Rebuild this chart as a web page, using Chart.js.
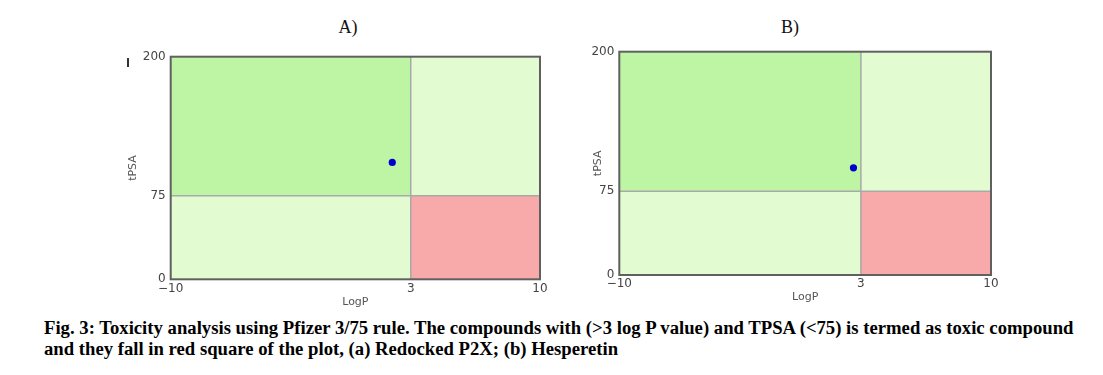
<!DOCTYPE html>
<html>
<head>
<meta charset="utf-8">
<script src="https://cdn.jsdelivr.net/npm/chart.js@4.4.1/dist/chart.umd.min.js"></script>
<style>
  html,body{margin:0;padding:0;background:#fff;}
  body{width:1103px;height:375px;position:relative;overflow:hidden;}
  .cv{position:absolute;}
  .ttl{position:absolute;font-family:"Liberation Serif","Times New Roman",serif;font-size:18px;color:#111;width:60px;text-align:center;line-height:20px;}
  #cap{position:absolute;left:44px;top:317px;font-family:"Liberation Serif","Times New Roman",serif;font-weight:bold;font-size:18.7px;line-height:21px;color:#000;white-space:nowrap;}
  #mark{position:absolute;left:127px;top:58px;width:2px;height:9px;background:#333;}
</style>
</head>
<body>
<div class="ttl" id="tA" style="left:318px;top:17px;">A)</div>
<div class="ttl" id="tB" style="left:760px;top:17px;">B)</div>
<div id="mark"></div>
<canvas id="cA" class="cv" width="460" height="270" style="left:100px;top:40px;"></canvas>
<canvas id="cB" class="cv" width="420" height="270" style="left:590px;top:35px;"></canvas>
<div id="cap">Fig. 3: Toxicity analysis using Pfizer 3/75 rule. The compounds with (&gt;3 log P value) and TPSA (&lt;75) is termed as toxic compound<br>and they fall in red square of the plot, (a) Redocked P2X; (b) Hesperetin</div>
<script>
// ---- data ----
const xTicks = [-10, 3, 10];          // LogP tick labels / zone bounds
const yTicks = [0, 75, 200];          // tPSA tick labels / zone bounds
const xThreshold = 3;
const yThreshold = 75;
const compoundA_logP = [2.0];
const compoundA_tpsa = [105];
const compoundB_logP = [2.6];
const compoundB_tpsa = [96];

// ---- styles ----
const COL_DARK = '#bdf5a4';
const COL_LIGHT = '#e3fbd0';
const COL_RED = '#f8a9a9';
// zone colours indexed [yZone][xZone]  (yZone 0 = below threshold)
const zoneStyle = [[COL_LIGHT, COL_RED],[COL_DARK, COL_LIGHT]];

const zonePlugin = {
  id: 'zones',
  beforeDatasetsDraw(chart) {
    const {ctx, chartArea: a, scales: {x, y}} = chart;
    ctx.save();
    for (let j = 0; j < yTicks.length - 1; j++) {
      for (let i = 0; i < xTicks.length - 1; i++) {
        const x0 = x.getPixelForValue(xTicks[i]);
        const x1 = x.getPixelForValue(xTicks[i + 1]);
        const y0 = y.getPixelForValue(yTicks[j]);
        const y1 = y.getPixelForValue(yTicks[j + 1]);
        ctx.fillStyle = zoneStyle[j][i];
        ctx.fillRect(x0, y1, x1 - x0, y0 - y1);
      }
    }
    ctx.strokeStyle = '#a9a9a9';
    ctx.lineWidth = 1.5;
    const tx = x.getPixelForValue(xThreshold);
    const ty = y.getPixelForValue(yThreshold);
    ctx.beginPath();
    ctx.moveTo(tx, a.top); ctx.lineTo(tx, a.bottom);
    ctx.moveTo(a.left, ty); ctx.lineTo(a.right, ty);
    ctx.stroke();
    ctx.strokeStyle = '#606060';
    ctx.lineWidth = 2;
    ctx.strokeRect(a.left, a.top, a.right - a.left, a.bottom - a.top);
    ctx.restore();
  }
};

function fmt(v) { return v < 0 ? '\u2212' + Math.abs(v) : String(v); }

function makeChart(id, xs, ys, cfg) {
  const pts = xs.map((v, i) => ({x: v, y: ys[i]}));
  return new Chart(document.getElementById(id), {
    type: 'scatter',
    data: { datasets: [{ data: pts, backgroundColor: '#0000cc', borderWidth: 0, pointRadius: 3.6 }] },
    options: {
      responsive: false, animation: false, devicePixelRatio: 1,
      layout: { padding: cfg.pad },
      plugins: { legend: {display: false}, tooltip: {enabled: false} },
      scales: {
        x: {
          type: 'linear', min: xTicks[0], max: xTicks[xTicks.length - 1],
          afterBuildTicks: s => { s.ticks = xTicks.map(v => ({value: v})); },
          afterFit: s => { s.height = cfg.xH; },
          grid: {display: false, drawTicks: false}, border: {display: false},
          ticks: { autoSkip: false, maxRotation: 0, padding: 2, color: '#444',
                   font: {family: 'DejaVu Sans', size: 12}, callback: v => fmt(v) },
          title: { display: true, text: 'LogP', color: '#555',
                   font: {family: 'DejaVu Sans', size: 11}, padding: {top: 0, bottom: cfg.xtPad} }
        },
        y: {
          type: 'linear', min: yTicks[0], max: yTicks[yTicks.length - 1],
          afterBuildTicks: s => { s.ticks = yTicks.map(v => ({value: v})); },
          afterFit: s => { s.width = cfg.yW; },
          grid: {display: false, drawTicks: false}, border: {display: false},
          ticks: { autoSkip: false, padding: 5, color: '#444',
                   font: {family: 'DejaVu Sans', size: 12}, callback: v => fmt(v) },
          title: { display: true, text: 'tPSA', color: '#555',
                   font: {family: 'DejaVu Sans', size: 11}, padding: {top: cfg.ytPad, bottom: 0} }
        }
      }
    },
    plugins: [zonePlugin]
  });
}

makeChart('cA', compoundA_logP, compoundA_tpsa,
  { pad: {left: 20, right: 20, top: 16.7, bottom: 0}, yW: 50.7, xH: 30.7, xtPad: 1.7, ytPad: 6.4 });
makeChart('cB', compoundB_logP, compoundB_tpsa,
  { pad: {left: 0, right: 19, top: 16.7, bottom: 0}, yW: 29.3, xH: 30, xtPad: 1.7, ytPad: 1.4 });
</script>
</body>
</html>
